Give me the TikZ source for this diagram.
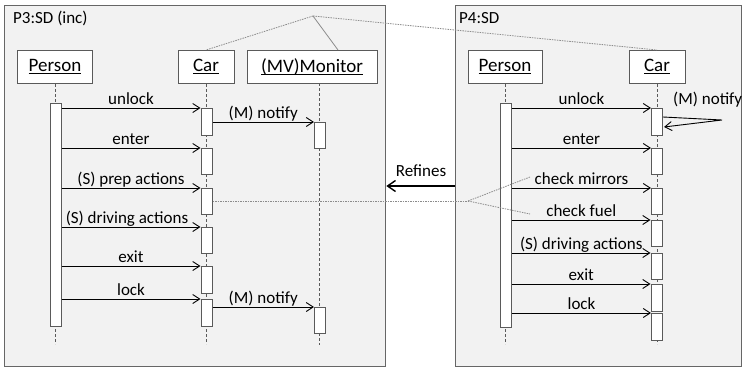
\documentclass[tikz,border=0pt]{standalone}
\usepackage{fontspec}
\setmainfont{Carlito}
\usetikzlibrary{arrows.meta}
\definecolor{framefill}{HTML}{F2F2F2}
\definecolor{framedraw}{HTML}{666666}
\definecolor{boxdraw}{HTML}{5A5A5A}
\definecolor{dotcol}{HTML}{8C8C8C}
\newcommand\myul[1]{\setbox0\hbox{#1}\rlap{\rule[-2.6pt]{\wd0}{1.5pt}}\box0}
\newcommand\actbar[4]{\node[actb, minimum height=#4pt-#3pt, anchor=north] (#1) at (#2,#3) {};}
\tikzset{
  frm/.style={draw=framedraw, fill=framefill, line width=1.3pt},
  obj/.style={draw=boxdraw, fill=white, line width=1pt, inner sep=0pt, minimum height=33pt, font=\fontsize{19}{22}\selectfont},
  actb/.style={draw=boxdraw, fill=white, line width=1pt, inner sep=0pt, minimum width=11pt},
  life/.style={draw=boxdraw, line width=0.8pt, dash pattern=on 3pt off 2pt},
  msg/.style={draw=black, line width=0.9pt, -{Straight Barb[length=7pt,width=9pt]}},
  lbl/.style={font=\fontsize{17}{20}\selectfont, anchor=base, inner sep=0pt},
  ttl/.style={font=\fontsize{17}{20}\selectfont, anchor=base west, inner sep=0pt},
  dotl/.style={draw=dotcol, line width=0.8pt, dash pattern=on 1.5pt off 1pt},
  refarr/.style={draw=black, line width=1.4pt, -{Straight Barb[length=8pt,width=11pt]}}
}
\begin{document}
\begin{tikzpicture}[x=1pt,y=-1pt]
\useasboundingbox (0,0) rectangle (743,367);
% frames
\node[frm, inner sep=0pt, minimum width=381pt, minimum height=361pt, anchor=north west] (lf) at (4,5) {};
\node[frm, inner sep=0pt, minimum width=286pt, minimum height=361pt, anchor=north west] (rf) at (455,5) {};
\node[ttl] (lt) at (13,23) {P3:SD (inc)};
\node[ttl] (rt) at (459,23) {P4:SD};
% objects
\node[obj, minimum width=75pt, anchor=north] (lp) at (55,50) {\myul{Person}};
\node[obj, minimum width=56pt, anchor=north] (lc) at (206,50) {\myul{Car}};
\node[obj, minimum width=130pt, anchor=north] (lm) at (312,50) {\myul{(MV)Monitor}};
\node[obj, minimum width=74pt, anchor=north] (rp) at (505,50) {\myul{Person}};
\node[obj, minimum width=56pt, anchor=north] (rc) at (657,50) {\myul{Car}};
% lifelines
\draw[life] (lp.south) -- (lp.south |- 0,344);
\draw[life] (lc.south) -- (lc.south |- 0,344);
\draw[life] (319.5,83) -- (319.5,345);
\draw[life] (rp.south) -- (rp.south |- 0,344);
\draw[life] (rc.south) -- (rc.south |- 0,344);
% activation bars left
\actbar{lpb}{55.5}{103}{326}
\actbar{c1}{206.5}{108}{135}
\actbar{c2}{206.5}{148}{174}
\actbar{c3}{206.5}{188}{214}
\actbar{c4}{206.5}{227}{253}
\actbar{c5}{206.5}{266}{293}
\actbar{c6}{206.5}{299}{326}
\actbar{m1}{320}{122}{148}
\actbar{m2}{320}{307}{333}
% activation bars right
\actbar{rpb}{506}{103}{327}
\actbar{d1}{657}{108}{135}
\actbar{d2}{657}{148}{174}
\actbar{d3}{657}{188}{214}
\actbar{d4}{656.5}{220}{246}
\actbar{d5}{656.5}{253}{279}
\actbar{d6}{656.5}{284}{311}
\actbar{d7}{657}{313}{340}
% messages left
\draw[msg] (lpb.east |- c1.north) -- (c1.north west) node[lbl, midway, yshift=4pt] {unlock};
\draw[msg] (c1.east |- m1.north) -- (m1.north west) node[lbl, midway, yshift=4pt] {(M) notify};
\draw[msg] (lpb.east |- c2.north) -- (c2.north west) node[lbl, midway, yshift=4pt] {enter};
\draw[msg] (lpb.east |- c3.north) -- (c3.north west) node[lbl, midway, yshift=4pt] {(S) prep actions};
\draw[msg] (lpb.east |- c4.north) -- (c4.north west) node[lbl, midway, yshift=4pt, xshift=-4pt] {(S) driving actions};
\draw[msg] (lpb.east |- c5.north) -- (c5.north west) node[lbl, midway, yshift=4pt] {exit};
\draw[msg] (lpb.east |- c6.north) -- (c6.north west) node[lbl, midway, yshift=4pt] {lock};
\draw[msg] (c6.east |- m2.north) -- (m2.north west) node[lbl, midway, yshift=4pt] {(M) notify};
% messages right
\draw[msg] (rpb.east |- d1.north) -- (d1.north west) node[lbl, midway, yshift=4pt] {unlock};
\coordinate (sn) at (722,120);
\draw[msg] ([yshift=-9pt]d1.north east) -- (sn) -- ([yshift=-19pt,xshift=1pt]d1.north east);
\node[ttl] (snl) at (673,104) {(M) notify};
\draw[msg] (rpb.east |- d2.north) -- (d2.north west) node[lbl, midway, yshift=4pt] {enter};
\draw[msg] (rpb.east |- d3.north) -- (d3.north west) node[lbl, midway, yshift=4pt] (cm) {check mirrors};
\draw[msg] (rpb.east |- d4.north) -- (d4.north west) node[lbl, midway, yshift=4pt] (cf) {check fuel};
\draw[msg] (rpb.east |- d5.north) -- (d5.north west) node[lbl, midway, yshift=4pt] {(S) driving actions};
\draw[msg] (rpb.east |- d6.north) -- (d6.north west) node[lbl, midway, yshift=4pt] {exit};
\draw[msg] (rpb.east |- d7.north) -- (d7.north west) node[lbl, midway, yshift=4pt] {lock};
% refines
\draw[refarr] (rf.west |- 0,186) -- (lf.east |- 0,186);
\node[lbl] (refl) at (421,176) {Refines};
% dotted correspondence lines
\coordinate (junc) at (468,201);
\coordinate (jm) at (530,177);
\coordinate (jf) at (530,214);
\draw[dotl] (c3.east |- junc) -- (junc);
\draw[dotl] (junc) -- (jm);
\draw[dotl] (junc) -- (jf);
\coordinate (apex) at (313,16);
\draw[dotl] (apex) -- (lc.north);
\draw[draw=dotcol, line width=0.8pt] (apex) -- ([xshift=26pt]lm.north);
\draw[dotl] (apex) -- (rc.north);
\end{tikzpicture}
\end{document}
